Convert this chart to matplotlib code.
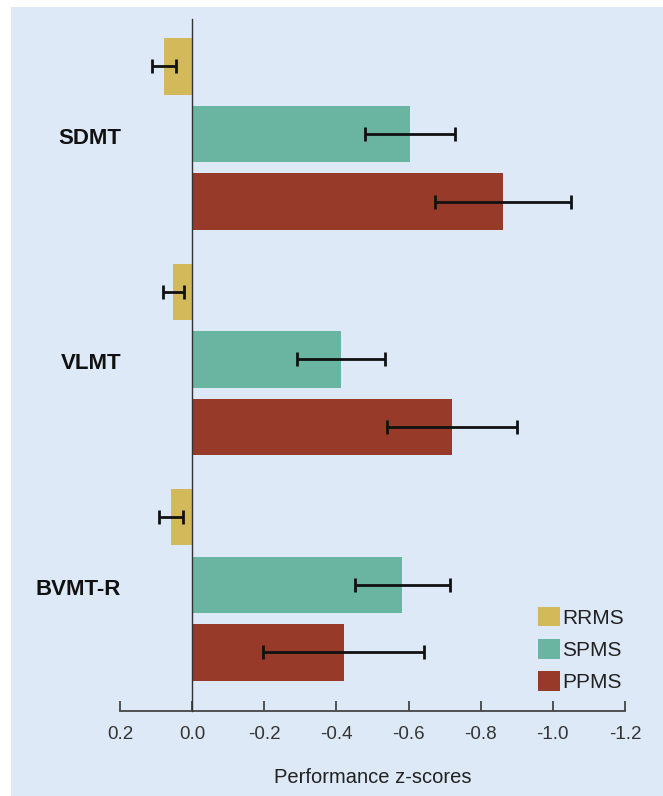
import numpy as np
import matplotlib.pyplot as plt
from matplotlib.patches import Patch, Rectangle

# data
tests = ['SDMT', 'VLMT', 'BVMT-R']
groups = ['RRMS', 'SPMS', 'PPMS']
rrms = [0.078, 0.052, 0.058]
spms = [-0.604, -0.413, -0.583]
ppms = [-0.862, -0.720, -0.420]
rrms_err = [0.034, 0.030, 0.033]
spms_err = [0.124, 0.121, 0.131]
ppms_err = [0.189, 0.181, 0.223]
xticks = [0.2, 0.0, -0.2, -0.4, -0.6, -0.8, -1.0, -1.2]

colors = ['#d3b95a', '#6ab5a1', '#973a2a']
bg = '#dde9f6'

plt.rcParams['font.family'] = ['Liberation Sans', 'DejaVu Sans']

fig = plt.figure(figsize=(6.63, 7.96), dpi=100)
fig.patches.append(Rectangle((11 / 663, 0), 1, 1 - 7 / 796, transform=fig.transFigure,
                             facecolor=bg, edgecolor='none', zorder=-10))
ax = fig.add_axes([120 / 663, 1 - 711 / 796, 505 / 663, 692 / 796])
ax.set_facecolor(bg)
ax.patch.set_alpha(0)

y = np.arange(len(tests))
offset = 0.3
height = 0.25
series = [(rrms, rrms_err), (spms, spms_err), (ppms, ppms_err)]
for i, (vals, errs) in enumerate(series):
    pos = y + (i - 1) * offset
    ax.barh(pos, vals, height=height, color=colors[i], label=groups[i], zorder=2)
    ax.errorbar(vals, pos, xerr=errs, fmt='none', ecolor='#111111', elinewidth=2,
                capsize=4.7, capthick=2, zorder=3)

ax.set_xlim(0.2, -1.2)
ax.set_ylim(2.56, -0.51)

ax.spines['top'].set_visible(False)
ax.spines['right'].set_visible(False)
ax.spines['left'].set_position(('data', 0))
ax.spines['left'].set_color('#333333')
ax.spines['left'].set_linewidth(1.0)
ax.spines['left'].set_zorder(4)
ax.spines['bottom'].set_color('#444444')
ax.spines['bottom'].set_linewidth(1.3)

ax.set_xticks(xticks)
ax.set_xticklabels([f"{v:.1f}" for v in xticks], fontsize=13.5, color='#333333')
ax.tick_params(axis='x', direction='in', length=7, width=1.3, color='#444444', pad=11)
ax.set_yticks([])
for yi, name in zip(y, tests):
    ax.text(0.197, yi + 0.02, name, ha='right', va='center', fontsize=16,
            fontweight='bold', color='#111111')

ax.set_xlabel('Performance z-scores', fontsize=14.5, color='#222222', labelpad=18)

handles = [Patch(facecolor=c, edgecolor='none') for c in colors]
leg = ax.legend(handles, groups, loc='lower right', frameon=False, fontsize=15,
                handlelength=1.05, handleheight=1.05, handletextpad=0.12,
                labelspacing=0.55, bbox_to_anchor=(1.035, 0.0))
for t in leg.get_texts():
    t.set_color('#222222')

plt.savefig('out.png', dpi=100, facecolor='white')
